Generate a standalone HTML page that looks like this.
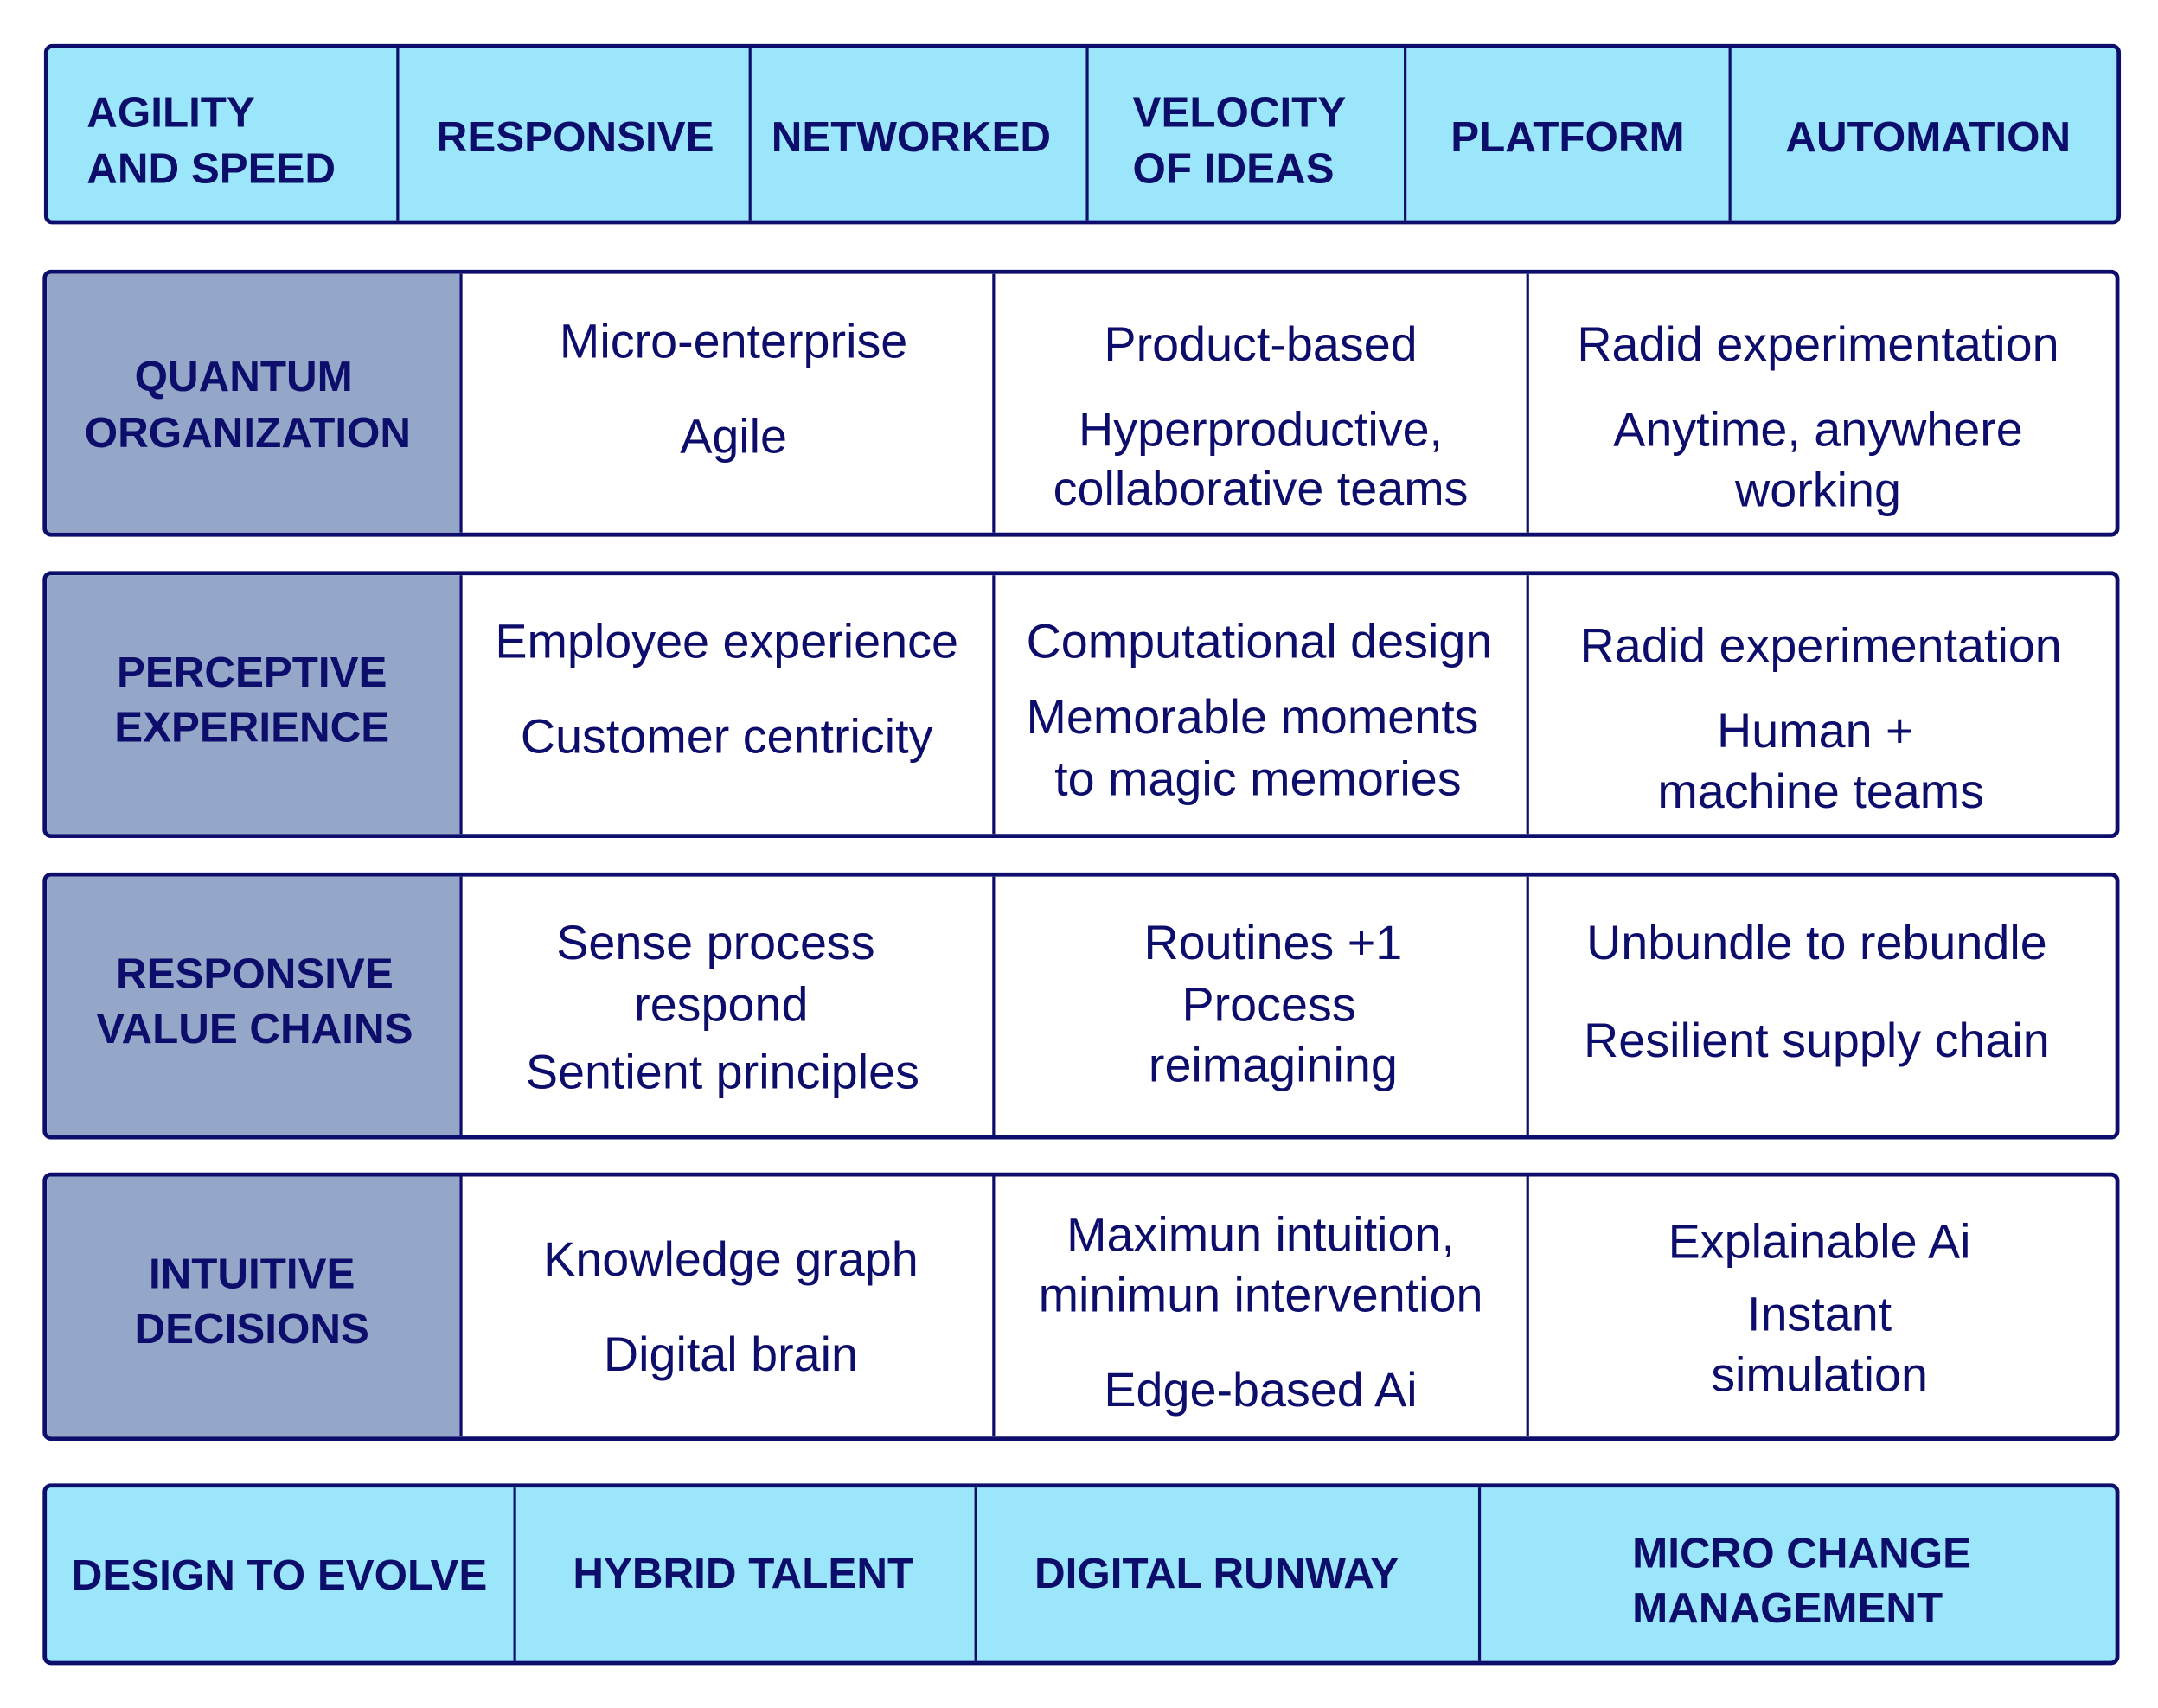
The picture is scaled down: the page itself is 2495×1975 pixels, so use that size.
<!DOCTYPE html>
<html><head><meta charset="utf-8"><style>
html,body{margin:0;padding:0;background:#fff;}
body{width:2495px;height:1974px;overflow:hidden;position:relative;}
#s{position:absolute;left:0;top:0;width:1568px;height:1241px;transform:scale(1.5912);transform-origin:0 0;font-family:"Liberation Sans",sans-serif;color:#0d0d6b;}
.box{position:absolute;border:3px solid #0d0d6b;border-radius:6px;box-sizing:border-box;overflow:hidden;}
.v{position:absolute;top:0;bottom:0;border-left:2.5px solid #0d0d6b;}
.t{position:absolute;white-space:nowrap;transform:translate(-50%,-50%);font-size:35px;}
.l{position:absolute;white-space:nowrap;transform:translateY(-50%);}
.b{font-weight:bold;font-size:31px;}
.lab{position:absolute;left:0;top:0;bottom:0;background:#94a7c9;}
</style></head><body><div id="s">
<div class="box" style="left:32px;top:32px;width:1509px;height:131px;background:#9ce6fc;">
<div class="v" style="left:253px"></div><div class="v" style="left:509px"></div><div class="v" style="left:754px"></div><div class="v" style="left:985px"></div><div class="v" style="left:1221px"></div>
</div>
<div class="l b" style="left:63px;top:82px">AGILITY</div>
<div class="l b" style="left:63px;top:123px">AND SPEED</div>
<div class="t b" style="left:418px;top:100px">RESPONSIVE</div>
<div class="t b" style="left:662px;top:100px">NETWORKED</div>
<div class="l b" style="left:823px;top:82px">VELOCITY</div>
<div class="l b" style="left:823px;top:123px">OF IDEAS</div>
<div class="t b" style="left:1139px;top:100px">PLATFORM</div>
<div class="t b" style="left:1401px;top:100px">AUTOMATION</div>

<div class="box" style="left:31px;top:196px;width:1509px;height:194px;"><div class="lab" style="width:301px"></div><div class="v" style="left:300px"></div><div class="v" style="left:687px"></div><div class="v" style="left:1075px"></div></div>
<div class="box" style="left:31px;top:415px;width:1509px;height:194px;"><div class="lab" style="width:301px"></div><div class="v" style="left:300px"></div><div class="v" style="left:687px"></div><div class="v" style="left:1075px"></div></div>
<div class="box" style="left:31px;top:634px;width:1509px;height:194px;"><div class="lab" style="width:301px"></div><div class="v" style="left:300px"></div><div class="v" style="left:687px"></div><div class="v" style="left:1075px"></div></div>
<div class="box" style="left:31px;top:852px;width:1509px;height:195px;"><div class="lab" style="width:301px"></div><div class="v" style="left:300px"></div><div class="v" style="left:687px"></div><div class="v" style="left:1075px"></div></div>

<div class="t b" style="left:177px;top:274px">QUANTUM</div>
<div class="t b" style="left:180px;top:315px">ORGANIZATION</div>
<div class="t b" style="left:183px;top:489px">PERCEPTIVE</div>
<div class="t b" style="left:183px;top:529px">EXPERIENCE</div>
<div class="t b" style="left:185px;top:708px">RESPONSIVE</div>
<div class="t b" style="left:185px;top:748px">VALUE CHAINS</div>
<div class="t b" style="left:183px;top:926px">INTUITIVE</div>
<div class="t b" style="left:183px;top:966px">DECISIONS</div>

<div class="t" style="left:533px;top:249px">Micro-enterprise</div>
<div class="t" style="left:533px;top:318px">Agile</div>
<div class="t" style="left:916px;top:251px">Product-based</div>
<div class="t" style="left:916px;top:313px">Hyperproductive,</div>
<div class="t" style="left:916px;top:356px">collaborative teams</div>
<div class="t" style="left:1321px;top:251px">Radid experimentation</div>
<div class="t" style="left:1321px;top:313px">Anytime, anywhere</div>
<div class="t" style="left:1321px;top:357px">working</div>

<div class="t" style="left:528px;top:467px">Employee experience</div>
<div class="t" style="left:528px;top:536px">Customer centricity</div>
<div class="t" style="left:915px;top:467px">Computational design</div>
<div class="t" style="left:910px;top:522px">Memorable moments</div>
<div class="t" style="left:914px;top:567px">to magic memories</div>
<div class="t" style="left:1323px;top:470px">Radid experimentation</div>
<div class="t" style="left:1319px;top:532px">Human +</div>
<div class="t" style="left:1323px;top:576px">machine teams</div>

<div class="t" style="left:520px;top:686px">Sense process</div>
<div class="t" style="left:524px;top:731px">respond</div>
<div class="t" style="left:525px;top:780px">Sentient principles</div>
<div class="t" style="left:925px;top:686px">Routines +1</div>
<div class="t" style="left:922px;top:731px">Process</div>
<div class="t" style="left:925px;top:775px">reimagining</div>
<div class="t" style="left:1320px;top:686px">Unbundle to rebundle</div>
<div class="t" style="left:1320px;top:757px">Resilient supply chain</div>

<div class="t" style="left:531px;top:916px">Knowledge graph</div>
<div class="t" style="left:531px;top:985px">Digital brain</div>
<div class="t" style="left:916px;top:898px">Maximun intuition,</div>
<div class="t" style="left:916px;top:942px">minimun intervention</div>
<div class="t" style="left:916px;top:1011px">Edge-based Ai</div>
<div class="t" style="left:1322px;top:903px">Explainable Ai</div>
<div class="t" style="left:1322px;top:956px">Instant</div>
<div class="t" style="left:1322px;top:1000px">simulation</div>

<div class="box" style="left:31px;top:1078px;width:1509px;height:132px;background:#9ce6fc;">
<div class="v" style="left:339px"></div><div class="v" style="left:674px"></div><div class="v" style="left:1040px"></div>
</div>
<div class="t b" style="left:203px;top:1145px">DESIGN TO EVOLVE</div>
<div class="t b" style="left:540px;top:1144px">HYBRID TALENT</div>
<div class="t b" style="left:884px;top:1144px">DIGITAL RUNWAY</div>
<div class="l b" style="left:1186px;top:1129px">MICRO CHANGE</div>
<div class="l b" style="left:1186px;top:1169px">MANAGEMENT</div>
</div></body></html>
